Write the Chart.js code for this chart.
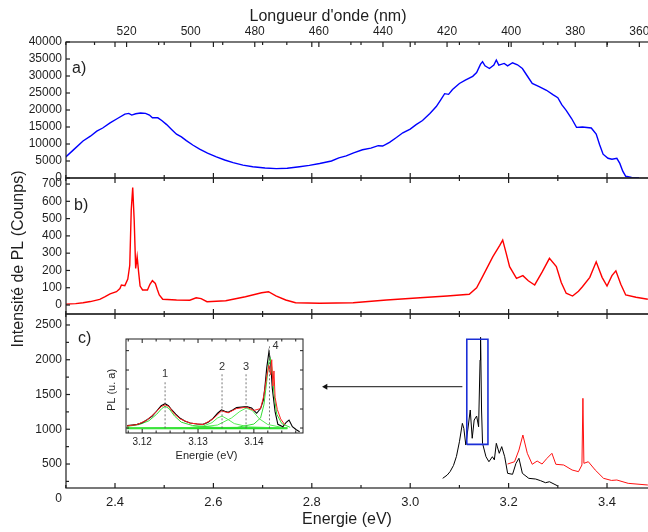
<!DOCTYPE html>
<html>
<head>
<meta charset="utf-8">
<script src="https://cdn.jsdelivr.net/npm/chart.js@4.4.1/dist/chart.umd.min.js"></script>
<style>
  html, body { margin: 0; padding: 0; background: #fff; }
  #wrap { position: relative; width: 648px; height: 532px; }
  #main { position: absolute; left: 0; top: 0; }
  #inset { position: absolute; left: 95px; top: 330px; }
</style>
</head>
<body>
<div id="wrap">
  <canvas id="main" width="648" height="532"></canvas>
  <canvas id="inset" width="215" height="135"></canvas>
</div>
<script>
// axis ticks
const energyTicks = [2.4, 2.6, 2.8, 3.0, 3.2, 3.4];
const energyMinor = [2.3, 2.5, 2.7, 2.9, 3.1, 3.3];
const waveTicks = [520, 500, 480, 460, 440, 420, 400, 380, 360];
const waveMinor = [530, 510, 490, 470, 450, 430, 410, 390, 370];
const ticksA = [0, 5000, 10000, 15000, 20000, 25000, 30000, 35000, 40000];
const ticksB = [0, 100, 200, 300, 400, 500, 600, 700];
const ticksC = [500, 1000, 1500, 2000, 2500];
const minorC = [250, 750, 1250, 1750, 2250];

// a) spectre bleu  [E (eV), coups]
const spectrumA = [
  [2.300, 6200], [2.315, 8200], [2.335, 10900], [2.350, 12300], [2.363, 13800],
  [2.375, 14700], [2.390, 16200], [2.405, 17500], [2.420, 18800], [2.428, 19000],
  [2.434, 18500], [2.442, 18900], [2.452, 19100], [2.462, 19000], [2.470, 18500],
  [2.476, 17700], [2.487, 17700], [2.495, 16900], [2.505, 15700], [2.515, 14300],
  [2.525, 12900], [2.535, 12100], [2.545, 11000], [2.558, 9700], [2.572, 8500],
  [2.588, 7300], [2.606, 6200], [2.623, 5300], [2.640, 4500], [2.660, 3800],
  [2.680, 3300], [2.705, 2950], [2.728, 2750], [2.750, 2850], [2.775, 3300],
  [2.795, 3700], [2.816, 4250], [2.840, 5000], [2.855, 5900], [2.870, 6500],
  [2.885, 7400], [2.903, 8300], [2.920, 8800], [2.935, 9500], [2.944, 9400],
  [2.958, 10500], [2.972, 11900], [2.985, 13300], [3.000, 14400], [3.012, 15700],
  [3.025, 16900], [3.040, 19000], [3.053, 21000], [3.062, 23000], [3.070, 24800],
  [3.078, 24600], [3.086, 26000], [3.100, 27800], [3.112, 28800], [3.127, 29900],
  [3.135, 31000], [3.143, 33500], [3.147, 34200], [3.152, 33000], [3.161, 32200],
  [3.170, 33200], [3.175, 34700], [3.180, 33200], [3.191, 33700], [3.198, 33000],
  [3.208, 33900], [3.218, 33300], [3.228, 32200], [3.238, 30000], [3.248, 27800],
  [3.262, 26900], [3.277, 25800], [3.290, 24500], [3.300, 23600], [3.308, 21600],
  [3.317, 19900], [3.328, 17500], [3.338, 14900], [3.350, 15000], [3.368, 14700],
  [3.378, 12900], [3.385, 9800], [3.392, 7000], [3.402, 5800], [3.410, 5500],
  [3.420, 5800], [3.426, 4300], [3.432, 2000], [3.438, 500], [3.450, 150], [3.465, 100]
];

// b) spectre rouge
const spectrumB = [
  [2.300, 5], [2.320, 8], [2.335, 13], [2.350, 20], [2.369, 33], [2.380, 48],
  [2.390, 64], [2.403, 77], [2.410, 95], [2.413, 116], [2.420, 112], [2.426, 150],
  [2.430, 230], [2.433, 549], [2.436, 680], [2.439, 491], [2.442, 212], [2.445, 280],
  [2.448, 190], [2.451, 110], [2.456, 87], [2.466, 87], [2.471, 120], [2.476, 141],
  [2.482, 125], [2.486, 90], [2.490, 58], [2.497, 33], [2.525, 29], [2.552, 28],
  [2.565, 42], [2.575, 37], [2.587, 19], [2.625, 25], [2.665, 48], [2.698, 71],
  [2.712, 77], [2.727, 53], [2.747, 29], [2.767, 13], [2.816, 10], [2.884, 13],
  [2.952, 29], [3.020, 42], [3.075, 52], [3.120, 62], [3.135, 100], [3.147, 164],
  [3.168, 280], [3.182, 345], [3.188, 376], [3.195, 300], [3.202, 222], [3.216, 154],
  [3.229, 170], [3.240, 140], [3.253, 116], [3.268, 190], [3.283, 270], [3.297, 222],
  [3.307, 130], [3.317, 68], [3.330, 52], [3.342, 80], [3.350, 106], [3.365, 160],
  [3.378, 250], [3.390, 160], [3.400, 110], [3.410, 170], [3.418, 198], [3.428, 120],
  [3.438, 58], [3.459, 45], [3.483, 33]
];

// c) spectres noir et rouge
const spectrumC1 = [
  [3.066, 294], [3.075, 340], [3.081, 390], [3.088, 480], [3.094, 610], [3.100, 820],
  [3.106, 1085], [3.109, 1012], [3.113, 773], [3.117, 990], [3.122, 1277], [3.126, 870],
  [3.130, 1133], [3.135, 1190], [3.139, 1036], [3.142, 1996], [3.143, 2323], [3.145, 1277],
  [3.147, 798], [3.154, 605], [3.160, 533], [3.167, 605], [3.171, 560], [3.175, 798],
  [3.181, 654], [3.186, 750], [3.192, 605], [3.198, 366], [3.208, 352], [3.215, 510],
  [3.221, 582], [3.228, 366], [3.241, 294], [3.255, 284], [3.265, 260], [3.275, 231],
  [3.283, 245], [3.299, 188]
];
const spectrumC2 = [
  [3.198, 500], [3.212, 533], [3.221, 701], [3.229, 917], [3.238, 654], [3.248, 496],
  [3.258, 543], [3.268, 500], [3.278, 582], [3.288, 654], [3.296, 496], [3.312, 486],
  [3.329, 414], [3.342, 390], [3.349, 486], [3.351, 1445], [3.353, 510], [3.362, 533],
  [3.376, 414], [3.393, 294], [3.409, 264], [3.420, 270], [3.443, 222], [3.483, 198]
];
// zone agrandie et flèche vers l'encart
const zoomE = [3.115, 3.158];
const zoomI = [783, 2294];
const arrowE = [3.106, 2.828];
const arrowI = 1612;

// encart
const insetXTicks = [3.12, 3.13, 3.14];
const insetXMinor = [3.1175, 3.1225, 3.125, 3.1275, 3.1325, 3.135, 3.1375, 3.1425, 3.145, 3.1475];
const insetYTicks = [0.053, 0.255, 0.468, 0.67, 0.876];
const insetData = [
  [3.1173, 0.078], [3.1182, 0.085], [3.1191, 0.092], [3.1200, 0.11], [3.1208, 0.138],
  [3.1218, 0.18], [3.1226, 0.234], [3.1234, 0.29], [3.1241, 0.312], [3.1247, 0.29],
  [3.1253, 0.245], [3.1260, 0.2], [3.1268, 0.156], [3.1277, 0.125], [3.1286, 0.106],
  [3.1298, 0.095], [3.1309, 0.092], [3.1318, 0.115], [3.1327, 0.156], [3.1335, 0.21],
  [3.1342, 0.245], [3.1348, 0.232], [3.1354, 0.22], [3.1362, 0.245], [3.1369, 0.27],
  [3.1378, 0.275], [3.1387, 0.28], [3.1396, 0.265], [3.1405, 0.21], [3.1412, 0.26],
  [3.1417, 0.35], [3.1420, 0.5], [3.1423, 0.69], [3.1427, 0.865], [3.1430, 0.76],
  [3.1433, 0.475], [3.1438, 0.227], [3.1443, 0.092], [3.1452, 0.067], [3.1458, 0.114],
  [3.1463, 0.138], [3.1469, 0.067], [3.1476, 0.035], [3.1482, 0.014]
];
const insetFit = [
  [3.1173, 0.075], [3.1191, 0.09], [3.1208, 0.135], [3.1226, 0.23], [3.1234, 0.28],
  [3.1241, 0.3], [3.1248, 0.28], [3.1258, 0.2], [3.1268, 0.15], [3.1286, 0.105],
  [3.1309, 0.09], [3.1327, 0.15], [3.1342, 0.235], [3.1354, 0.215], [3.1369, 0.26],
  [3.1387, 0.275], [3.1400, 0.24], [3.1412, 0.26], [3.1418, 0.4], [3.1423, 0.6],
  [3.1427, 0.72], [3.1430, 0.62], [3.1432, 0.78], [3.1434, 0.5], [3.1436, 0.66],
  [3.1438, 0.38], [3.1442, 0.25], [3.1448, 0.15], [3.1455, 0.09]
];
const peak1 = [
  [3.1173, 0.07], [3.1195, 0.09], [3.1212, 0.13], [3.1226, 0.2], [3.1235, 0.26],
  [3.1241, 0.285], [3.1248, 0.26], [3.1258, 0.18], [3.1270, 0.115], [3.1290, 0.08],
  [3.1330, 0.06], [3.1400, 0.055], [3.1460, 0.052]
];
const peak2 = [
  [3.1173, 0.05], [3.1280, 0.055], [3.1310, 0.075], [3.1325, 0.11], [3.1335, 0.16],
  [3.1343, 0.18], [3.1352, 0.15], [3.1365, 0.1], [3.1390, 0.065], [3.1460, 0.052]
];
const peak3 = [
  [3.1173, 0.05], [3.1300, 0.06], [3.1335, 0.085], [3.1360, 0.16], [3.1375, 0.23],
  [3.1386, 0.265], [3.1397, 0.24], [3.1410, 0.15], [3.1425, 0.09], [3.1450, 0.06],
  [3.1460, 0.055]
];
const peak4 = [
  [3.1173, 0.05], [3.1370, 0.06], [3.1400, 0.095], [3.1412, 0.16], [3.1418, 0.3],
  [3.1423, 0.55], [3.1427, 0.76], [3.1429, 0.8], [3.1432, 0.7], [3.1436, 0.42],
  [3.1441, 0.2], [3.1450, 0.1], [3.1465, 0.06]
];
const baseline = [[3.1173, 0.05], [3.1300, 0.05], [3.1460, 0.05]];
const peakNames = ['1', '2', '3', '4'];
const peakE = [3.1241, 3.1343, 3.1386, 3.1428];
const peakTop = [0.56, 0.63, 0.63, 0.93];

const FONT = 'Arial, "Liberation Sans", sans-serif';
const INK = '#1e1e1e';

const toXY = arr => arr.map(p => ({x: p[0], y: p[1]}));

function series(data, yAxisID, color, width) {
  return {data: toXY(data), yAxisID, borderColor: color, borderWidth: width,
          pointRadius: 0, fill: false, tension: 0};
}

function segment(ctx, x1, y1, x2, y2) {
  ctx.beginPath();
  ctx.moveTo(x1, y1);
  ctx.lineTo(x2, y2);
  ctx.stroke();
}

const noGrid = {display: false, drawTicks: false, tickLength: 0};

const mainDecor = {
  id: 'mainDecor',
  afterDraw(chart) {
    const {ctx, chartArea: a, scales: s} = chart;
    ctx.save();
    ctx.strokeStyle = INK;
    ctx.lineWidth = 1.2;
    [['yA', ticksA, []], ['yB', ticksB, []], ['yC', ticksC, minorC]].forEach(([id, major, minor]) => {
      const y = s[id];
      ctx.strokeRect(a.left, y.top, a.right - a.left + 4, y.bottom - y.top);
      energyTicks.forEach(v => {
        const px = s.x.getPixelForValue(v);
        segment(ctx, px, y.top, px, y.top + 5);
        segment(ctx, px, y.bottom, px, y.bottom - 5);
      });
      energyMinor.forEach(v => {
        const px = s.x.getPixelForValue(v);
        segment(ctx, px, y.top, px, y.top + 3);
        segment(ctx, px, y.bottom, px, y.bottom - 3);
      });
      major.forEach(v => { const py = y.getPixelForValue(v); segment(ctx, a.left, py, a.left + 4, py); });
      minor.forEach(v => { const py = y.getPixelForValue(v); segment(ctx, a.left, py, a.left + 3, py); });
    });
    waveTicks.forEach(v => { const px = s.xTop.getPixelForValue(v); segment(ctx, px, a.top, px, a.top + 5); });
    waveMinor.forEach(v => { const px = s.xTop.getPixelForValue(v); segment(ctx, px, a.top, px, a.top + 3); });

    ctx.fillStyle = INK;
    ctx.textBaseline = 'middle';
    ctx.font = '12px ' + FONT;
    ctx.textAlign = 'right';
    ctx.fillText('0', s.yC.right - 4, s.yC.getPixelForValue(0));

    ctx.font = '16px ' + FONT;
    ctx.textAlign = 'center';
    ctx.fillText("Longueur d'onde (nm)", 328, 17);
    ctx.fillText('Energie (eV)', 347, 520);
    ctx.textAlign = 'left';
    ctx.fillText('a)', a.left + 6, s.yA.top + 27);
    ctx.fillText('b)', a.left + 8, s.yB.top + 28);
    ctx.fillText('c)', a.left + 12, s.yC.top + 25);
    ctx.save();
    ctx.translate(19, 259);
    ctx.rotate(-Math.PI / 2);
    ctx.textAlign = 'center';
    ctx.fillText('Intensité de PL (Counps)', 0, 0);
    ctx.restore();
    ctx.restore();
  }
};

function yScale(min, max, ticks, order, weight) {
  return {
    type: 'linear', position: 'left', stack: 'panels', stackWeight: weight, weight: order,
    min, max,
    grid: noGrid, border: {display: false},
    afterBuildTicks: sc => { sc.ticks = ticks.map(v => ({value: v})); },
    afterFit: sc => { sc.width = 66; sc.paddingTop = 0; sc.paddingBottom = 0; },
    ticks: {autoSkip: false, padding: 4, color: INK, font: {family: FONT, size: 12},
            callback: v => String(v)}
  };
}

function xFit(height) {
  return sc => { sc.height = height; sc.paddingLeft = 0; sc.paddingRight = 0; };
}

const arrowSet = {
  data: toXY([[arrowE[0], arrowI], [arrowE[1], arrowI]]), yAxisID: 'yC',
  borderColor: '#111', borderWidth: 1, backgroundColor: '#111',
  pointRadius: [0, 3.5], pointStyle: 'triangle', rotation: 270, pointBorderWidth: 0,
  tension: 0, fill: false
};
const zoomBox = series([[zoomE[0], zoomI[0]], [zoomE[0], zoomI[1]], [zoomE[1], zoomI[1]],
                        [zoomE[1], zoomI[0]], [zoomE[0], zoomI[0]]], 'yC', '#1b2fd6', 1.6);

new Chart(document.getElementById('main'), {
  type: 'line',
  data: {
    datasets: [
      zoomBox,
      arrowSet,
      series(spectrumC1, 'yC', '#000000', 1),
      series(spectrumC2, 'yC', '#ff1010', 1),
      series(spectrumA, 'yA', '#0000ff', 1.4),
      series(spectrumB, 'yB', '#ff0000', 1.4)
    ]
  },
  options: {
    responsive: false,
    animation: false,
    events: [],
    layout: {padding: 0, autoPadding: false},
    plugins: {legend: {display: false}, tooltip: {enabled: false}},
    scales: {
      x: {
        type: 'linear', position: 'bottom', min: 2.3004, max: 3.4833,
        grid: noGrid, border: {display: false},
        afterBuildTicks: sc => { sc.ticks = energyTicks.map(v => ({value: v})); },
        afterFit: xFit(44),
        ticks: {autoSkip: false, maxRotation: 0, padding: 7, color: INK,
                font: {family: FONT, size: 13}, callback: v => v.toFixed(1)}
      },
      xTop: {
        type: 'linear', position: 'top', reverse: true, min: 357.3, max: 538.9,
        grid: noGrid, border: {display: false},
        afterBuildTicks: sc => { sc.ticks = waveTicks.map(v => ({value: v})); },
        afterFit: xFit(42),
        ticks: {autoSkip: false, maxRotation: 0, padding: 3, color: INK,
                font: {family: FONT, size: 12}}
      },
      yA: yScale(0, 40000, ticksA, 3, 136),
      yB: yScale(-52, 735, ticksB, 2, 136),
      yC: yScale(155, 2658, ticksC, 1, 174)
    }
  },
  plugins: [mainDecor]
});

// ---------- encart ----------
const insetDecor = {
  id: 'insetDecor',
  afterDraw(chart) {
    const {ctx, chartArea: a, scales: s} = chart;
    ctx.save();
    ctx.strokeStyle = INK;
    ctx.lineWidth = 1;
    ctx.strokeRect(a.left, a.top, a.right - a.left, a.bottom - a.top);
    insetXTicks.forEach(v => {
      const px = s.x.getPixelForValue(v);
      segment(ctx, px, a.bottom, px, a.bottom - 4);
      segment(ctx, px, a.top, px, a.top + 4);
    });
    insetXMinor.forEach(v => {
      const px = s.x.getPixelForValue(v);
      segment(ctx, px, a.bottom, px, a.bottom - 2.5);
      segment(ctx, px, a.top, px, a.top + 2.5);
    });
    insetYTicks.forEach(v => {
      const py = s.y.getPixelForValue(v);
      segment(ctx, a.left, py, a.left + 3, py);
      segment(ctx, a.right, py, a.right - 3, py);
    });
    ctx.fillStyle = '#333';
    ctx.font = '11px ' + FONT;
    ctx.textBaseline = 'bottom';
    ctx.textAlign = 'center';
    peakE.forEach((e, i) => {
      const dx = i === 3 ? 6 : 0;
      ctx.fillText(peakNames[i], s.x.getPixelForValue(e) + dx, s.y.getPixelForValue(peakTop[i]) + (i === 3 ? 6 : -1));
    });
    ctx.fillStyle = INK;
    ctx.textBaseline = 'middle';
    ctx.fillText('Energie (eV)', 111.5, 126);
    ctx.save();
    ctx.translate(17, 60);
    ctx.rotate(-Math.PI / 2);
    ctx.fillText('PL (u. a)', 0, 0);
    ctx.restore();
    ctx.restore();
  }
};

const peakLines = peakE.map((e, i) => ({
  data: toXY([[e, 0.05], [e, peakTop[i]]]), yAxisID: 'y',
  borderColor: '#555', borderWidth: 0.8, borderDash: [2, 2], pointRadius: 0
}));

new Chart(document.getElementById('inset'), {
  type: 'line',
  data: {
    datasets: [
      ...peakLines,
      series(insetFit, 'y', '#ff2020', 1),
      series(peak4, 'y', '#33dd33', 1),
      series(insetData, 'y', '#000000', 1.1),
      series(peak1, 'y', '#33dd33', 1),
      series(peak2, 'y', '#55ee55', 1),
      series(peak3, 'y', '#55ee55', 1),
      series(baseline, 'y', '#22dd22', 2)
    ]
  },
  options: {
    responsive: false,
    animation: false,
    events: [],
    layout: {padding: {top: 9, right: 7, left: 0, bottom: 0}, autoPadding: false},
    plugins: {legend: {display: false}, tooltip: {enabled: false}},
    scales: {
      x: {
        type: 'linear', min: 3.1171, max: 3.1488,
        grid: noGrid, border: {display: false},
        afterBuildTicks: sc => { sc.ticks = insetXTicks.map(v => ({value: v})); },
        afterFit: xFit(32),
        ticks: {autoSkip: false, maxRotation: 0, padding: 3, color: INK,
                font: {family: FONT, size: 10}, callback: v => v.toFixed(2)}
      },
      y: {
        type: 'linear', min: 0, max: 1,
        grid: noGrid, border: {display: false},
        afterFit: sc => { sc.width = 31; sc.paddingTop = 0; sc.paddingBottom = 0; },
        ticks: {display: false}
      }
    }
  },
  plugins: [insetDecor]
});
</script>
</body>
</html>
